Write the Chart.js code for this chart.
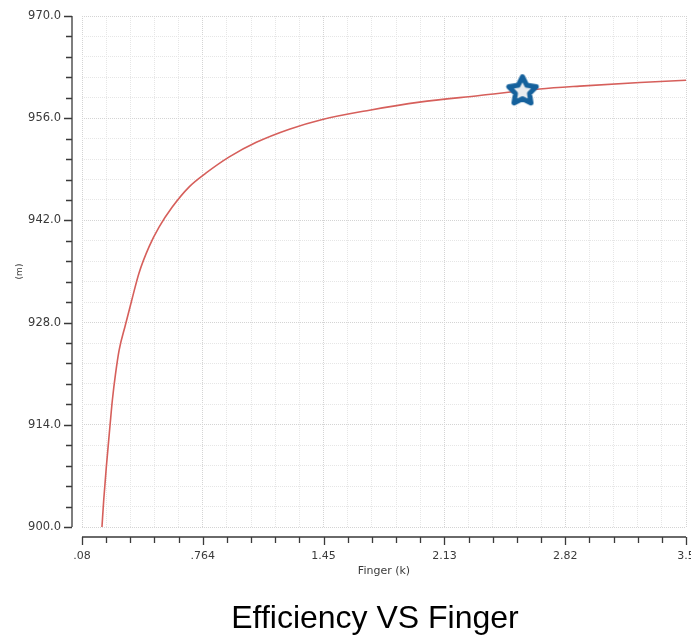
<!DOCTYPE html>
<html>
<head>
<meta charset="utf-8">
<script src="https://cdn.jsdelivr.net/npm/chart.js@4/dist/chart.umd.min.js"></script>
<style>
  html, body { margin: 0; padding: 0; background: #fff; }
  #wrap { width: 691px; height: 635px; }
</style>
</head>
<body>
<div id="wrap"><canvas id="effChart" width="691" height="635"></canvas></div>
<script>
// efficiency curve (x in k, y in m)
const fingerK = [0.193, 0.203, 0.218, 0.239, 0.252, 0.270, 0.290, 0.325, 0.362, 0.403, 0.460, 0.517, 0.590,
  0.687, 0.783, 0.914, 1.067, 1.254, 1.436, 1.708, 1.991, 2.332, 2.672, 2.899, 3.239, 3.5];
const efficiency = [900.0, 903.7, 908.3, 914.0, 917.4, 921.0, 924.2, 927.6, 931.1, 934.8, 938.4, 941.1, 943.8,
  946.6, 948.5, 950.7, 952.7, 954.5, 955.8, 957.1, 958.2, 959.1, 960.0, 960.4, 960.9, 961.2];

// highlighted operating point
const markerX = [2.574];
const markerY = [959.7];

// axes
const xMin = 0.08, xMax = 3.5;
const yMin = 900, yMax = 970;
const minorPerMajor = 5;
const xTickLabels = [".08", ".764", "1.45", "2.13", "2.82", "3.5"];
const yTickLabels = ["900.0", "914.0", "928.0", "942.0", "956.0", "970.0"];
const titleText = "Efficiency VS Finger";

function evenTicks(min, max) {
  const n = (xTickLabels.length - 1) * minorPerMajor;
  const out = [];
  for (let i = 0; i <= n; i++) out.push({ value: min + (max - min) * i / n });
  return out;
}

// star marker drawn once into a small canvas
function starImage() {
  const c = document.createElement("canvas");
  c.width = 44; c.height = 44;
  const g = c.getContext("2d");
  const cx = 22, cy = 22, R = 14.5, r = 7.4;
  g.beginPath();
  for (let i = 0; i < 10; i++) {
    const rad = i % 2 === 0 ? R : r;
    const a = -Math.PI / 2 + i * Math.PI / 5;
    const px = cx + rad * Math.cos(a), py = cy + rad * Math.sin(a);
    i === 0 ? g.moveTo(px, py) : g.lineTo(px, py);
  }
  g.closePath();
  g.fillStyle = "#e8ebee";
  g.fill();
  g.lineJoin = "round";
  g.lineWidth = 5;
  g.strokeStyle = "#15619c";
  g.stroke();
  return c;
}

const gridColor = (ctx) => (ctx.index % minorPerMajor === 0 ? "#d4d4d4" : "#e6e6e6");
const tickFont = { family: '"DejaVu Sans", Verdana, sans-serif', size: 11 };

// axis spines sit a little away from the plot, with their own tick marks;
// x labels are drawn here too so the last one may run off the canvas edge
const offsetAxes = {
  id: "offsetAxes",
  afterDraw(chart) {
    const { ctx, chartArea, scales } = chart;
    const gap = 10;
    ctx.save();
    ctx.strokeStyle = "#3a3a3a";
    ctx.lineWidth = 1.3;

    const ax = chartArea.left - gap;
    ctx.beginPath();
    ctx.moveTo(ax, chartArea.top);
    ctx.lineTo(ax, chartArea.bottom);
    scales.y.ticks.forEach((t, i) => {
      const py = Math.round(scales.y.getPixelForValue(t.value)) + 0.5;
      const len = i % minorPerMajor === 0 ? 8 : 6;
      ctx.moveTo(ax - len, py);
      ctx.lineTo(ax, py);
    });
    ctx.stroke();

    const ay = chartArea.bottom + gap;
    ctx.beginPath();
    ctx.moveTo(chartArea.left, ay);
    ctx.lineTo(chartArea.right, ay);
    scales.x.ticks.forEach((t, i) => {
      const px = Math.round(scales.x.getPixelForValue(t.value)) + 0.5;
      const len = i % minorPerMajor === 0 ? 8 : 6;
      ctx.moveTo(px, ay);
      ctx.lineTo(px, ay + len);
    });
    ctx.stroke();

    ctx.fillStyle = "#3a3a3a";
    ctx.font = `${tickFont.size}px ${tickFont.family}`;
    ctx.textAlign = "center";
    ctx.textBaseline = "middle";
    scales.x.ticks.forEach((t, i) => {
      if (i % minorPerMajor !== 0) return;
      ctx.fillText(xTickLabels[i / minorPerMajor], scales.x.getPixelForValue(t.value), chartArea.bottom + 29);
    });

    ctx.fillStyle = "#000";
    ctx.font = '32px "Liberation Sans", Arial, sans-serif';
    ctx.textBaseline = "alphabetic";
    ctx.fillText(titleText, 375, 628);
    ctx.restore();
  }
};

new Chart(document.getElementById("effChart"), {
  data: {
    datasets: [
      {
        type: "scatter",
        data: markerX.map((x, i) => ({ x, y: markerY[i] })),
        pointStyle: starImage(),
        pointRadius: 16,
      },
      {
        type: "line",
        data: fingerK.map((x, i) => ({ x, y: efficiency[i] })),
        borderColor: "#d65f5b",
        borderWidth: 1.6,
        pointRadius: 0,
        cubicInterpolationMode: "monotone",
        fill: false,
      },
    ],
  },
  plugins: [offsetAxes],
  options: {
    responsive: false,
    animation: false,
    layout: { autoPadding: false, padding: { top: 16, right: 5, bottom: 36, left: 0 } },
    plugins: {
      legend: { display: false },
      title: { display: false },
      tooltip: { enabled: false },
    },
    scales: {
      x: {
        type: "linear",
        min: xMin,
        max: xMax,
        afterBuildTicks: (scale) => { scale.ticks = evenTicks(xMin, xMax); },
        afterFit: (scale) => { scale.height = 72; },
        ticks: { display: false, autoSkip: false, maxRotation: 0 },
        grid: { color: gridColor, drawTicks: false, lineWidth: 1 },
        border: { display: false, dash: [1, 1] },
        title: {
          display: true,
          text: "Finger (k)",
          color: "#3a3a3a",
          font: tickFont,
          padding: { top: 0, bottom: 21 },
        },
      },
      y: {
        type: "linear",
        min: yMin,
        max: yMax,
        afterBuildTicks: (scale) => { scale.ticks = evenTicks(yMin, yMax); },
        afterFit: (scale) => { scale.width = 82; scale.paddingTop = 0; scale.paddingBottom = 0; },
        ticks: {
          autoSkip: false,
          padding: 21,
          color: "#3a3a3a",
          font: { family: tickFont.family, size: 11.5 },
          callback: (v, i) => (i % minorPerMajor === 0 ? yTickLabels[i / minorPerMajor] : ""),
        },
        grid: { color: gridColor, drawTicks: false, lineWidth: 1 },
        border: { display: false, dash: [1, 1] },
        title: {
          display: true,
          text: "(m)",
          color: "#3a3a3a",
          font: { family: tickFont.family, size: 9 },
          padding: { top: 14, bottom: 0 },
        },
      },
    },
  },
});
</script>
</body>
</html>
